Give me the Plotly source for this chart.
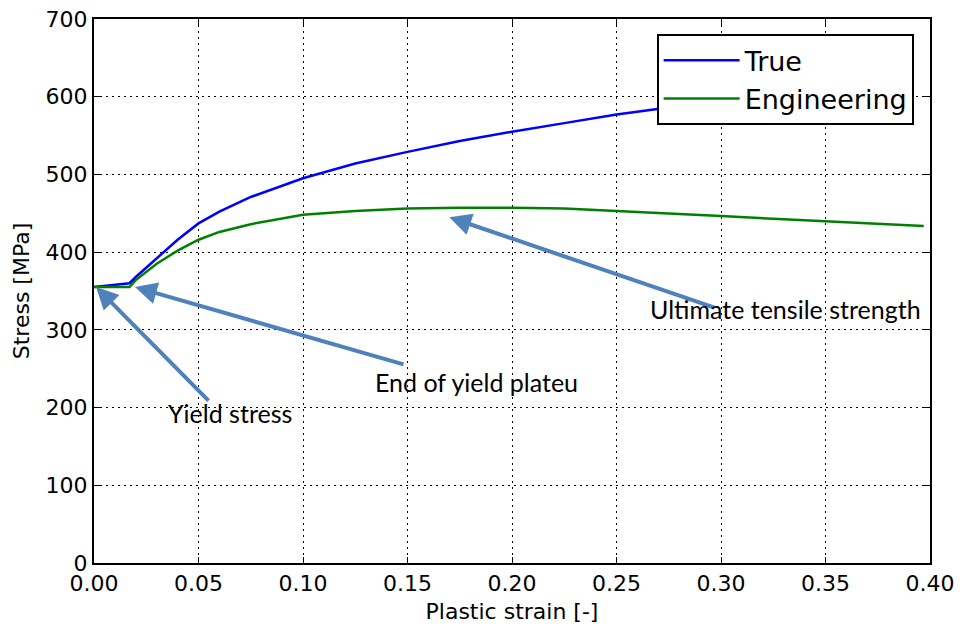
import plotly.graph_objects as go

# Engineering curve
eng_strain = [0.0, 0.017, 0.02, 0.025, 0.03, 0.04, 0.05, 0.06, 0.075, 0.1, 0.125, 0.15, 0.175,
              0.2, 0.225, 0.25, 0.275, 0.3, 0.325, 0.35, 0.375, 0.397]
eng_stress = [355, 355, 364, 375, 385, 402, 416, 426, 436, 448, 453, 456, 457,
              457, 456, 453, 450, 446.5, 443, 440, 437, 433.5]

# True curve (continues under the legend)
true_strain = [0.0, 0.017, 0.02, 0.025, 0.03, 0.04, 0.05, 0.06, 0.075, 0.1, 0.125, 0.15, 0.175,
               0.2, 0.225, 0.25, 0.275, 0.3]
true_stress = [355, 360, 368, 380, 392, 416, 437, 452, 471, 495, 514, 529, 543,
               555, 566, 577, 586, 594]

x_ticks = [0.0, 0.05, 0.10, 0.15, 0.20, 0.25, 0.30, 0.35, 0.40]
x_tick_labels = ["0.00", "0.05", "0.10", "0.15", "0.20", "0.25", "0.30", "0.35", "0.40"]
y_ticks = [0, 100, 200, 300, 400, 500, 600, 700]

# annotations: (label, head_x, head_y, tail_x, tail_y, text_x, text_y)
annot_labels = ["Yield stress", "End of yield plateu", "Ultimate tensile strength"]
annot_head_x = [0.001, 0.0196, 0.170]
annot_head_y = [355, 355, 445]
annot_tail_x = [0.0555, 0.1488, 0.2976]
annot_tail_y = [207, 255, 328]
annot_text_x = [0.065, 0.183, 0.331]
annot_text_y = [193, 233, 327]

fig = go.Figure()
fig.add_trace(go.Scatter(x=true_strain, y=true_stress, mode="lines", name="True",
                         line=dict(color="#0000ff", width=2.5)))
fig.add_trace(go.Scatter(x=eng_strain, y=eng_stress, mode="lines", name="Engineering",
                         line=dict(color="#008000", width=2.5)))

arrow_color = "#4F81BD"
for lab, hx, hy, tx, ty, lx, ly in zip(annot_labels, annot_head_x, annot_head_y,
                                       annot_tail_x, annot_tail_y, annot_text_x, annot_text_y):
    fig.add_annotation(x=hx, y=hy, ax=tx, ay=ty, axref="x", ayref="y", xref="x", yref="y",
                       text="", showarrow=True, arrowhead=2, arrowsize=1.1, arrowwidth=4,
                       arrowcolor=arrow_color)
    fig.add_annotation(x=lx, y=ly, xref="x", yref="y", text=lab, showarrow=False,
                       font=dict(family="Lato", size=25, color="black"))

axis_common = dict(
    showline=True, linecolor="black", linewidth=2, mirror="allticks",
    ticks="inside", ticklen=6, tickwidth=1, tickcolor="black",
    showgrid=True, gridcolor="black", gridwidth=1, griddash="2px,4px",
    zeroline=False, automargin=False, ticklabeloverflow="allow",
    tickfont=dict(family="DejaVu Sans", size=22, color="black"),
)

fig.update_xaxes(range=[0, 0.4], tickvals=x_ticks, ticktext=x_tick_labels,
                 title=dict(text="Plastic strain [-]", font=dict(family="DejaVu Sans", size=22, color="black"), standoff=8),
                 **axis_common)
fig.update_yaxes(range=[0, 700], tickvals=y_ticks,
                 title=dict(text="Stress [MPa]", font=dict(family="DejaVu Sans", size=22, color="black"), standoff=10),
                 **axis_common)

fig.update_layout(
    width=960, height=632,
    margin=dict(l=94, r=30, t=19, b=69),
    plot_bgcolor="white", paper_bgcolor="white",
    showlegend=True,
    legend=dict(x=0.673, y=0.972, xanchor="left", yanchor="top",
                bgcolor="white", bordercolor="black", borderwidth=2,
                font=dict(family="DejaVu Sans", size=27, color="black"),
                itemwidth=76, entrywidth=208, entrywidthmode="pixels"),
)

fig.write_html("out.html")
